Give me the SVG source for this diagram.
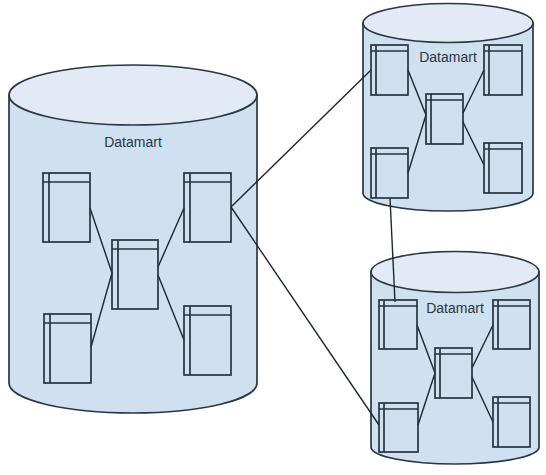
<svg xmlns="http://www.w3.org/2000/svg" width="546" height="475" viewBox="0 0 546 475">
<defs>
<style>
.body{fill:#cfe0f1;stroke:#2b3644;stroke-width:1.7}
.top{fill:#e1eaf5;stroke:#2b3644;stroke-width:1.7}
.tbl rect{fill:none;stroke:#263240;stroke-width:1.7}
.tbl line{stroke:#263240;stroke-width:1.7}
.conn line{stroke:#1e2630;stroke-width:1.4}
.lbl{font-family:"Liberation Sans",Arial,sans-serif;fill:#2d3540;text-anchor:middle;font-size:14px}
</style>
</defs>
<rect width="546" height="475" fill="#ffffff"/>

<g id="cyl-left">
<path class="body" d="M9,95 L9,383 A124,30 0 0 0 257,383 L257,95 Z"/>
<ellipse class="top" cx="133" cy="95" rx="124" ry="30"/>
<text class="lbl" x="133" y="147">Datamart</text>
</g>
<g id="cyl-topright">
<path class="body" d="M363,23 L363,193 A85,18 0 0 0 533,193 L533,23 Z"/>
<ellipse class="top" cx="448" cy="23" rx="85" ry="19.5"/>
<text class="lbl" x="448" y="62">Datamart</text>
</g>
<g id="cyl-bottomright">
<path class="body" d="M371,272 L371,447 A84,17 0 0 0 539,447 L539,272 Z"/>
<ellipse class="top" cx="455" cy="272" rx="84" ry="20.5"/>
<text class="lbl" x="455" y="313">Datamart</text>
</g>

<g id="connectors" class="conn">
<line x1="90" y1="208" x2="112" y2="273"/>
<line x1="91" y1="347" x2="112" y2="273"/>
<line x1="158" y1="267" x2="184" y2="208"/>
<line x1="158" y1="275" x2="184" y2="340"/>
<line x1="231" y1="207" x2="371" y2="70"/>
<line x1="231" y1="207" x2="379" y2="425"/>
<line x1="408" y1="70" x2="426" y2="115"/>
<line x1="408" y1="173" x2="426" y2="115"/>
<line x1="463" y1="113" x2="484" y2="70"/>
<line x1="463" y1="122" x2="484" y2="165"/>
<line x1="390" y1="198" x2="395" y2="302"/>
<line x1="417" y1="325" x2="435" y2="373"/>
<line x1="418" y1="425" x2="435" y2="373"/>
<line x1="472" y1="368" x2="493" y2="325"/>
<line x1="472" y1="377" x2="493" y2="422"/>
</g>

<g id="t-l-tl" class="tbl"><rect x="43" y="173" width="47" height="69"/><line x1="49" y1="173" x2="49" y2="242"/><line x1="43" y1="182" x2="90" y2="182"/></g>
<g id="t-l-tr" class="tbl"><rect x="184" y="173" width="47" height="69"/><line x1="190" y1="173" x2="190" y2="242"/><line x1="184" y1="182" x2="231" y2="182"/></g>
<g id="t-l-c" class="tbl"><rect x="112" y="240" width="46" height="69"/><line x1="118" y1="240" x2="118" y2="309"/><line x1="112" y1="249" x2="158" y2="249"/></g>
<g id="t-l-bl" class="tbl"><rect x="44" y="314" width="47" height="69"/><line x1="50" y1="314" x2="50" y2="383"/><line x1="44" y1="323" x2="91" y2="323"/></g>
<g id="t-l-br" class="tbl"><rect x="184" y="306" width="47" height="69"/><line x1="190" y1="306" x2="190" y2="375"/><line x1="184" y1="315" x2="231" y2="315"/></g>

<g id="t-a-tl" class="tbl"><rect x="371" y="45" width="37" height="50"/><line x1="376" y1="45" x2="376" y2="95"/><line x1="371" y1="51" x2="408" y2="51"/></g>
<g id="t-a-tr" class="tbl"><rect x="484" y="45" width="38" height="50"/><line x1="489" y1="45" x2="489" y2="95"/><line x1="484" y1="51" x2="522" y2="51"/></g>
<g id="t-a-c" class="tbl"><rect x="426" y="94" width="37" height="50"/><line x1="431" y1="94" x2="431" y2="144"/><line x1="426" y1="100" x2="463" y2="100"/></g>
<g id="t-a-bl" class="tbl"><rect x="371" y="148" width="37" height="50"/><line x1="376" y1="148" x2="376" y2="198"/><line x1="371" y1="154" x2="408" y2="154"/></g>
<g id="t-a-br" class="tbl"><rect x="484" y="143" width="38" height="50"/><line x1="489" y1="143" x2="489" y2="193"/><line x1="484" y1="149" x2="522" y2="149"/></g>

<g id="t-b-tl" class="tbl"><rect x="379" y="300" width="38" height="49"/><line x1="384" y1="300" x2="384" y2="349"/><line x1="379" y1="306" x2="417" y2="306"/></g>
<g id="t-b-tr" class="tbl"><rect x="493" y="300" width="37" height="49"/><line x1="498" y1="300" x2="498" y2="349"/><line x1="493" y1="306" x2="530" y2="306"/></g>
<g id="t-b-c" class="tbl"><rect x="435" y="348" width="37" height="50"/><line x1="440" y1="348" x2="440" y2="398"/><line x1="435" y1="354" x2="472" y2="354"/></g>
<g id="t-b-bl" class="tbl"><rect x="379" y="403" width="39" height="49"/><line x1="384" y1="403" x2="384" y2="452"/><line x1="379" y1="409" x2="418" y2="409"/></g>
<g id="t-b-br" class="tbl"><rect x="493" y="397" width="37" height="50"/><line x1="498" y1="397" x2="498" y2="447"/><line x1="493" y1="403" x2="530" y2="403"/></g>
</svg>
